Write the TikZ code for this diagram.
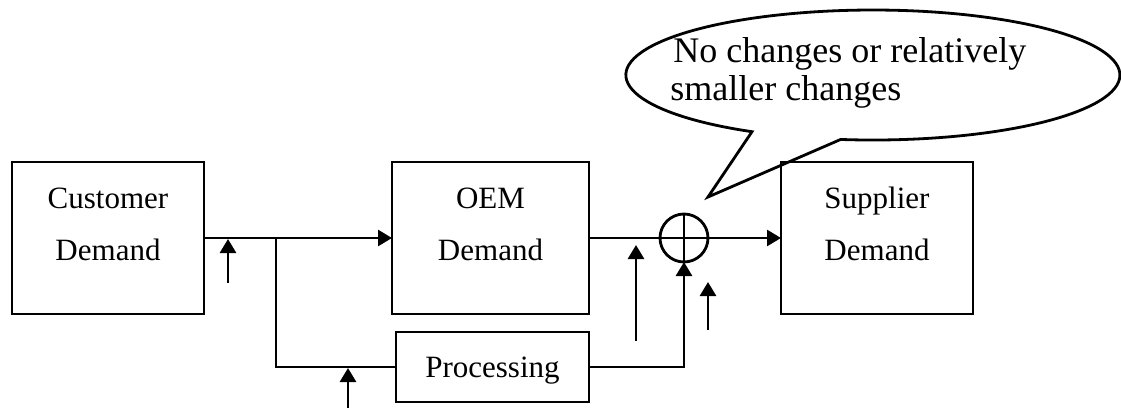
\documentclass[tikz,border=0pt]{standalone}
\usepackage{fontspec}
\setmainfont{Liberation Serif}
\usetikzlibrary{arrows.meta}
\begin{document}
\begin{tikzpicture}[x=0.5pt,y=-0.5pt,line width=1.4pt,
  blk/.style={draw,rectangle,inner sep=0pt,outer sep=0pt},
  arr/.style={-{Triangle[length=7pt,width=8pt]}},
  lbl/.style={font=\fontsize{15.5}{18}\selectfont,anchor=base,inner sep=0pt},
  btxt/.style={font=\fontsize{18}{19}\selectfont,anchor=base west,inner sep=0pt}]
\useasboundingbox (0,0) rectangle (1121,412);
% boxes
\node[blk,minimum width=96pt,minimum height=76pt] (cust) at (108,238) {};
\node[blk,minimum width=98.5pt,minimum height=76pt] (oem) at (490.5,238) {};
\node[blk,minimum width=96pt,minimum height=76pt] (sup) at (877,238) {};
\node[blk,minimum width=96.5pt,minimum height=35pt] (proc) at (492.5,367) {};
\node[draw,circle,minimum size=24pt,inner sep=0pt,outer sep=0pt] (sum) at (684,238) {};
\draw (sum.north) -- (sum.south) (sum.west) -- (sum.east);
% labels
\node[lbl] (t1) at (108,208) {Customer};
\node[lbl] (t2) at (108,260) {Demand};
\node[lbl] (t3) at (490.5,208) {OEM};
\node[lbl] (t4) at (490.5,260) {Demand};
\node[lbl] (t5) at (877,208) {Supplier};
\node[lbl] (t6) at (877,260) {Demand};
\node[lbl] (t7) at (492.5,377) {Processing};
% connectors
\coordinate (br) at (276,238);
\draw[arr] (cust.east) -- (oem.west);
\draw (br) |- (proc.west);
\draw (oem.east) -- (sum.west);
\draw[arr] (sum.east) -- (sup.west);
\draw[arr] (proc.east) -| (sum.south);
% disturbance arrows
\coordinate (a1s) at (228,283); \coordinate (a1e) at (228,239);
\coordinate (a2s) at (348,408); \coordinate (a2e) at (348,368);
\coordinate (a3s) at (636,341); \coordinate (a3e) at (636,245);
\coordinate (a4s) at (708,330); \coordinate (a4e) at (708,282);
\draw[arr] (a1s) -- (a1e);
\draw[arr] (a2s) -- (a2e);
\draw[arr] (a3s) -- (a3e);
\draw[arr] (a4s) -- (a4e);
% callout bubble
\coordinate (tip) at (708,197);
\draw[line join=miter] (tip) -- (752,131.7)
  arc[start angle=119.3,end angle=457.5,x radius=247,y radius=65] -- cycle;
\node[btxt] (b1) at (672,62) {No changes or relatively};
\node[btxt] (b2) at (669,100) {smaller changes};
\end{tikzpicture}
\end{document}
